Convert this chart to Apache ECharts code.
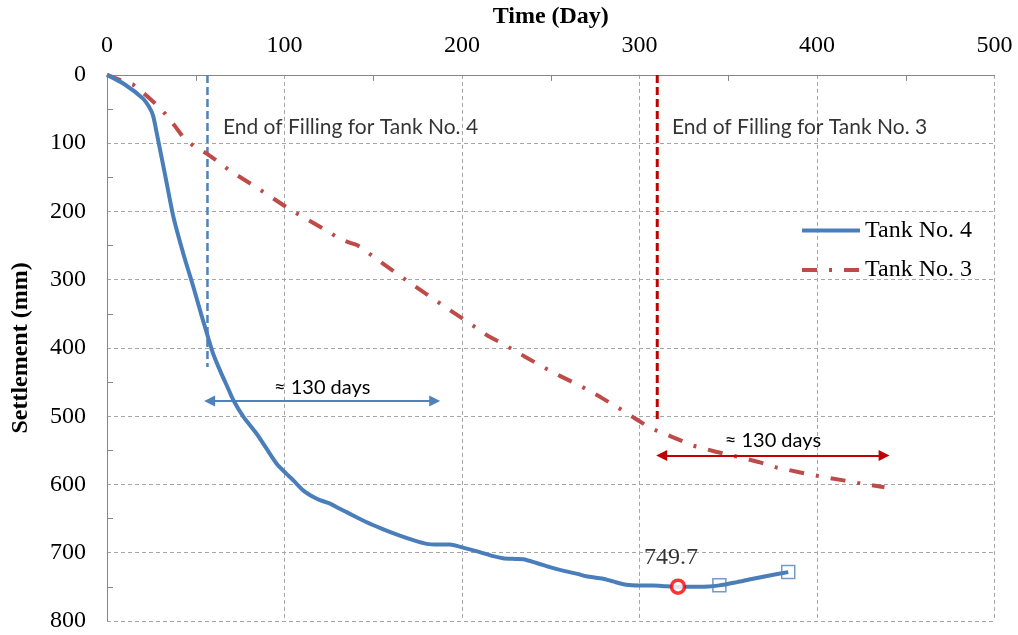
<!DOCTYPE html>
<html><head><meta charset="utf-8">
<script src="https://cdn.jsdelivr.net/npm/echarts@6/dist/echarts.min.js"></script>
<style>html,body{margin:0;padding:0;background:#fff}#c{width:1018px;height:635px}</style>
</head><body><div id="c"></div>
<script>
// ---- data ----
const xTicks = [0, 100, 200, 300, 400, 500];
const yTicks = [0, 100, 200, 300, 400, 500, 600, 700, 800];
const seriesNames = ['Tank No. 4', 'Tank No. 3'];
const tank4 = [[0,0],[10,14],[20,34],[24,48],[26,60],[28,85],[33,150],[37.5,209],[43,262],[48.7,311],[53,350],[57,385],[60,410],[64,435],[68,458],[71.3,477],[76.9,501],[84.4,526],[90,548],[95.7,570],[101,584],[105,594],[110.7,609],[116,618],[120,623],[125.7,628],[130,634],[135,640.5],[146,655],[155,665],[165,675],[173,682],[180,687],[187,688],[193,688],[202.6,694],[210,699],[217.6,705],[223,708],[230,709],[234.5,709.5],[242,715],[249.5,721],[258,727],[265,731],[270,734.5],[279.5,738],[285,742],[292.6,747],[300,748],[307.6,748],[315,749],[321.7,749.7],[334,750],[345,747.8],[355,743],[364,738],[374,733],[383.8,728.4]];
const tank3 = [[0,0],[8,8],[14.6,14],[22.5,31],[28,44],[32.8,57],[38,74],[43.1,92],[48.7,104],[56.6,116],[61.9,126],[69,140],[82.5,162],[89.6,174],[103,197],[110.3,208],[123.8,228],[130.9,240],[137,246],[140.7,249],[144.4,255],[151.9,270],[165,294],[172,307],[183.8,328],[192.2,343],[204.4,364],[215,383],[223,394],[235,412],[245.7,428],[256,442],[266.3,455],[278,472],[288.9,489],[298,504],[304,514],[309.5,521],[320,532],[330,543],[343,552],[356.4,560],[367,567],[377,575],[390,582],[401.4,588],[415,594],[427.7,600],[438,604]];
const fillEnd4 = [[56.6,0],[56.6,428]];
const fillEnd3 = [[310,0],[310,506]];
const arrow4 = [[57.8,477.6],[184.6,477.6]];
const arrow3 = [[312.5,557.6],[437.8,557.6]];
const maxPoint = [[321.7,749.7]];
const maxLabel = '749.7';
const squarePoints = [[345,747.8],[383.8,728.4]];
const noteTexts = ['End of Filling for Tank No. 4', 'End of Filling for Tank No. 3'];
const notePos = [[65.3,77.1],[318.3,77.1]];
const arrowText = '≈ 130 days';

// ---- styles ----
const BLUE = '#4a7ebb', RED = '#be4b48', DARKRED = '#c00000';
const SERIF = '"Liberation Serif","Times New Roman",serif';
const SANS = 'Lato, "Open Sans", sans-serif';

const chart = echarts.init(document.getElementById('c'), null, {renderer: 'canvas'});
const gridLine = {show: true, lineStyle: {color: '#a6a6a6', type: [4, 3], width: 1}};
const axisLine = {show: true, lineStyle: {color: '#868686', width: 1}};

chart.setOption({
  backgroundColor: '#fff',
  animation: false,
  grid: {left: 107, top: 74, right: 23.5, bottom: 14, containLabel: false},
  legend: {
    orient: 'vertical', left: 795, top: 213.5, itemWidth: 58, itemHeight: 24, itemGap: 15.5,
    data: seriesNames,
    itemStyle: {opacity: 0},
    lineStyle: {width: 4},
    textStyle: {fontFamily: SERIF, fontSize: 24, color: '#000'}
  },
  xAxis: {
    type: 'value', position: 'top', min: xTicks[0], max: xTicks[xTicks.length-1], interval: xTicks[1]-xTicks[0],
    name: 'Time (Day)', nameLocation: 'middle', nameGap: 42,
    nameTextStyle: {fontFamily: SERIF, fontSize: 24, fontWeight: 'bold', color: '#000'},
    axisLine: axisLine,
    axisTick: {show: false, inside: true},
    minorTick: {show: true, splitNumber: 2, length: 6, lineStyle: {color: '#868686'}},
    axisLabel: {fontFamily: SERIF, fontSize: 24, color: '#000', margin: 17},
    splitLine: gridLine
  },
  yAxis: {
    type: 'value', inverse: true, min: yTicks[0], max: yTicks[yTicks.length-1], interval: yTicks[1]-yTicks[0],
    name: 'Settlement (mm)', nameLocation: 'middle', nameGap: 74, nameRotate: 90,
    nameTextStyle: {fontFamily: SERIF, fontSize: 24, fontWeight: 'bold', color: '#000'},
    axisLine: axisLine,
    axisTick: {show: false, inside: true},
    minorTick: {show: true, splitNumber: 2, length: 6, lineStyle: {color: '#868686'}},
    axisLabel: {fontFamily: SERIF, fontSize: 24, color: '#000', margin: 21},
    splitLine: gridLine
  },
  series: [
    {
      name: seriesNames[0], type: 'line', data: tank4, symbol: 'none', smooth: 0.25,
      lineStyle: {color: BLUE, width: 4}, itemStyle: {color: BLUE}, z: 5
    },
    {
      name: seriesNames[1], type: 'line', data: tank3, symbol: 'none',
      lineStyle: {color: RED, width: 4, type: [15, 12, 3, 12], cap: 'butt'}, itemStyle: {color: RED}, z: 4
    },
    {
      name: 'fill4', type: 'line', data: fillEnd4, symbol: 'none', silent: true,
      lineStyle: {color: '#4f81bd', width: 2.5, type: [8, 4]}, z: 3,
      markLine: {
        silent: true, symbol: ['triangle', 'triangle'], symbolSize: [11, 11],
        lineStyle: {color: '#4f81bd', width: 2, type: 'solid'},
        label: {show: true, position: 'insideMiddleTop', distance: 3, formatter: arrowText,
          fontFamily: SANS, fontSize: 20, color: '#000'},
        data: [[{coord: arrow4[0]}, {coord: arrow4[1]}]]
      }
    },
    {
      name: 'fill3', type: 'line', data: fillEnd3, symbol: 'none', silent: true,
      lineStyle: {color: DARKRED, width: 3, type: [8, 4]}, z: 3,
      markLine: {
        silent: true, symbol: ['triangle', 'triangle'], symbolSize: [11, 11],
        lineStyle: {color: DARKRED, width: 2, type: 'solid'},
        label: {show: true, position: 'insideMiddleTop', distance: 5, formatter: arrowText,
          fontFamily: SANS, fontSize: 20, color: '#000'},
        data: [[{coord: arrow3[0]}, {coord: arrow3[1]}]]
      }
    },
    {
      name: 'notes', type: 'scatter', symbolSize: 0, silent: true, z: 6,
      data: notePos.map((p, i) => ({value: p, name: noteTexts[i]})),
      label: {show: true, position: 'right', distance: 0, formatter: p => p.name,
        fontFamily: SANS, fontSize: 21, color: '#000'}
    },
    {
      name: 'squares', type: 'scatter', data: squarePoints, symbol: 'rect', symbolSize: 13, silent: true, z: 7,
      itemStyle: {color: 'rgba(0,0,0,0)', borderColor: '#4f81bd', borderWidth: 1.5}
    },
    {
      name: 'max', type: 'scatter', data: maxPoint, symbol: 'circle', symbolSize: 13, silent: true, z: 8,
      itemStyle: {color: '#fff', borderColor: '#ff0000', borderWidth: 3.5},
      label: {show: true, position: 'top', distance: 9, offset: [-7, 0], formatter: maxLabel,
        fontFamily: SERIF, fontSize: 24, color: '#000'}
    }
  ]
});
</script></body></html>
